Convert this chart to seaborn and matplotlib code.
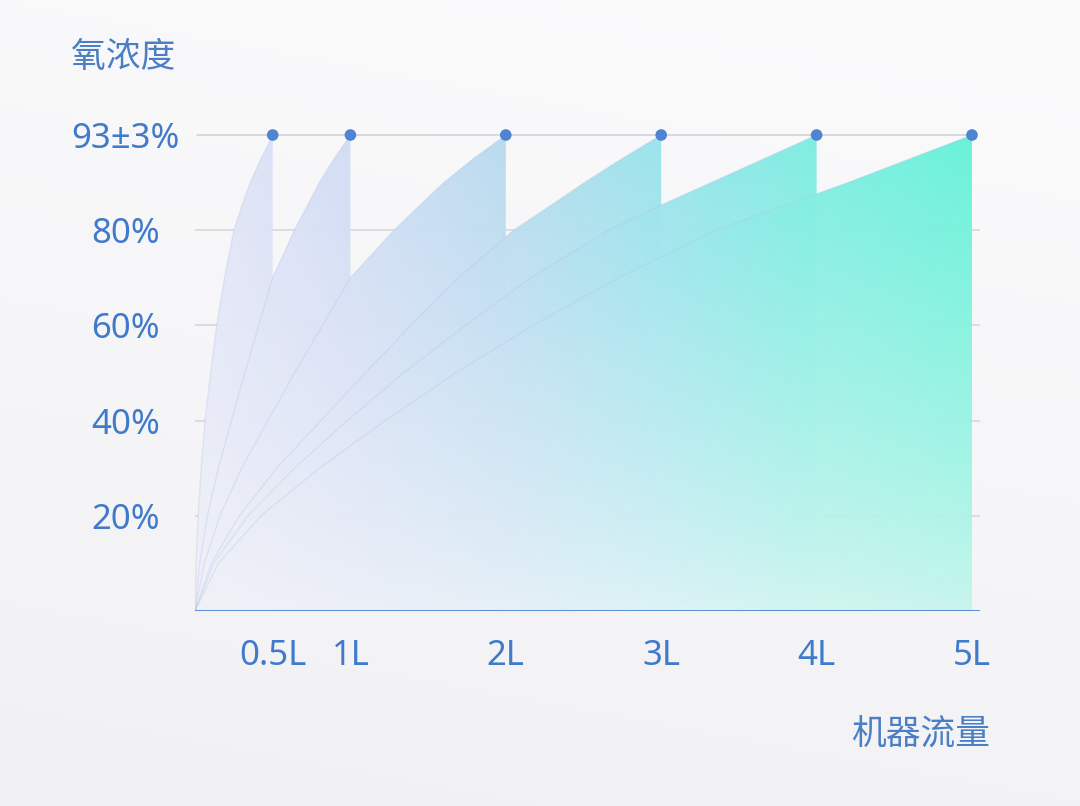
import numpy as np
import pandas as pd
import matplotlib
matplotlib.use("Agg")
import matplotlib.pyplot as plt
import seaborn as sns
from matplotlib.colors import to_rgb

# ---------------- data ----------------
flows = [0.5, 1, 2, 3, 4, 5]
flow_labels = ["0.5L", "1L", "2L", "3L", "4L", "5L"]
ytick_vals = [20, 40, 60, 80, 100]
ytick_labels = ["20%", "40%", "60%", "80%", "93±3%"]

levels = [0, 10, 20, 30, 40, 50, 60, 70, 80, 85, 90, 95, 100]
x_05L = [0, 0.0075, 0.02, 0.04, 0.065, 0.10, 0.14, 0.19, 0.25, 0.30, 0.355, 0.425, 0.5]
x_1L = [0, 0.03, 0.08, 0.15, 0.235, 0.32, 0.41, 0.50, 0.64, 0.72, 0.80, 0.895, 1.0]
x_2L = [0, 0.06, 0.16, 0.30, 0.47, 0.64, 0.82, 1.00, 1.28, 1.44, 1.60, 1.79, 2.0]
x_3L = [0, 0.105, 0.285, 0.525, 0.81, 1.095, 1.39, 1.695, 2.05, 2.28, 2.505, 2.745, 3.0]
x_4L = [0, 0.12, 0.34, 0.64, 0.98, 1.34, 1.74, 2.16, 2.66, 2.98, 3.32, 3.66, 4.0]
x_5L = [0, 0.15, 0.425, 0.80, 1.225, 1.675, 2.175, 2.725, 3.35, 3.775, 4.20, 4.60, 5.0]
curves = [x_5L, x_4L, x_3L, x_2L, x_1L, x_05L]

title_y = "氧浓度"
title_x = "机器流量"

# ---------------- style ----------------
sns.set_theme(style="white")
plt.rcParams["font.family"] = ["Noto Sans CJK SC", "DejaVu Sans"]
TXT = "#3f7acb"
NUMFONT = ["Noto Sans", "Noto Sans CJK SC", "DejaVu Sans"]

W, H = 1080, 806
fig = plt.figure(figsize=(W / 100, H / 100), dpi=100)
fig.patch.set_facecolor("#f6f6f8")

# soft background
bg = fig.add_axes([0, 0, 1, 1], zorder=-10)
bg.set_axis_off()
yy, xx = np.mgrid[0:1:200j, 0:1:200j]
top = np.array(to_rgb("#fbfbfc"))
bot = np.array(to_rgb("#f1f1f4"))
t = np.clip(yy * 0.8 + (1 - xx) * 0.2, 0, 1)[..., None]
img_bg = top * (1 - t) + bot * t
bg.imshow(np.clip(img_bg, 0, 1), extent=[0, 1, 0, 1], origin="upper", aspect="auto")

left, right, bottom_px, top_px = 195, 980, 611, 120
ax = fig.add_axes([left / W, (H - bottom_px) / H, (right - left) / W, (bottom_px - top_px) / H])
ax.patch.set_alpha(0)
xmax = (right - left) / 155.4
ymax = 100 * (bottom_px - top_px) / 476
ax.set_xlim(0, xmax)
ax.set_ylim(0, ymax)

# grid lines
for v in ytick_vals[:-1]:
    ax.axhline(v, color="#d4d5da", lw=1.1, zorder=1)

# gradient image for fills
gx = np.linspace(0, xmax, 300)
gy = np.linspace(0, ymax, 200)
stops_x = np.array([0, 1.0, 2.0, 3.0, 4.0, 5.05])
top_cols = np.array([to_rgb(c) for c in ["#e3e6f7", "#d0dcf4", "#b6daef", "#96e3eb", "#79eee0", "#62f2d8"]])
bot_cols = np.array([to_rgb(c) for c in ["#f1f2f9", "#edf0f9", "#e7f0f8", "#ddf3f6", "#d2f5f0", "#c8f6ed"]])
tc = np.stack([np.interp(gx, stops_x, top_cols[:, k]) for k in range(3)], axis=-1)
bc = np.stack([np.interp(gx, stops_x, bot_cols[:, k]) for k in range(3)], axis=-1)
tv = np.clip(gy / 100, 0, 1) ** 0.8
grad = bc[None, :, :] * (1 - tv[:, None, None]) + tc[None, :, :] * tv[:, None, None]

for i, xs in enumerate(curves):
    poly = ax.fill_between(xs, levels, 0, facecolor="none", edgecolor="none", zorder=2 + i)
    im = ax.imshow(grad, extent=[0, xmax, 0, ymax], origin="lower", aspect="auto",
                   alpha=0.95, zorder=2 + i)
    im.set_clip_path(poly.get_paths()[0], transform=ax.transData)

for xs in curves:
    df = pd.DataFrame({"x": xs, "y": levels})
    sns.lineplot(data=df, x="x", y="y", ax=ax, color="#b3c1ea", lw=1.0, alpha=0.3,
                 sort=False, zorder=9, legend=False)

ax.set_xlim(0, xmax)
ax.set_ylim(0, ymax)

# top line, baseline, dots
ax.axhline(100, xmin=0.003, xmax=0.995, color="#cfd0d6", lw=1.1, zorder=1)
ax.axhline(0, color="#5b8fd8", lw=2.2, zorder=11)
dots = pd.DataFrame({"x": flows, "y": [100] * len(flows)})
sns.scatterplot(data=dots, x="x", y="y", ax=ax, s=70, color="#4e84d2", edgecolor="none",
                zorder=12, legend=False, clip_on=False)

for s in ax.spines.values():
    s.set_visible(False)
ax.grid(False)
ax.set_xlabel("")
ax.set_ylabel("")
ax.set_xticks(flows)
ax.set_xticklabels(flow_labels, fontsize=25, color=TXT, family=NUMFONT)
ax.set_yticks(ytick_vals)
ax.set_yticklabels(ytick_labels, fontsize=25, color=TXT, ha="center", family=NUMFONT)
ax.tick_params(axis="x", length=0, pad=20)
ax.tick_params(axis="y", length=0, pad=50)

fig.text(123 / W, 1 - 58 / H, title_y, fontsize=25, color="#4a7fc6", ha="center", va="center")
fig.text(921 / W, 1 - 735 / H, title_x, fontsize=25, color="#4a7fc6", ha="center", va="center")

fig.savefig("out.png", dpi=100, facecolor=fig.get_facecolor())
